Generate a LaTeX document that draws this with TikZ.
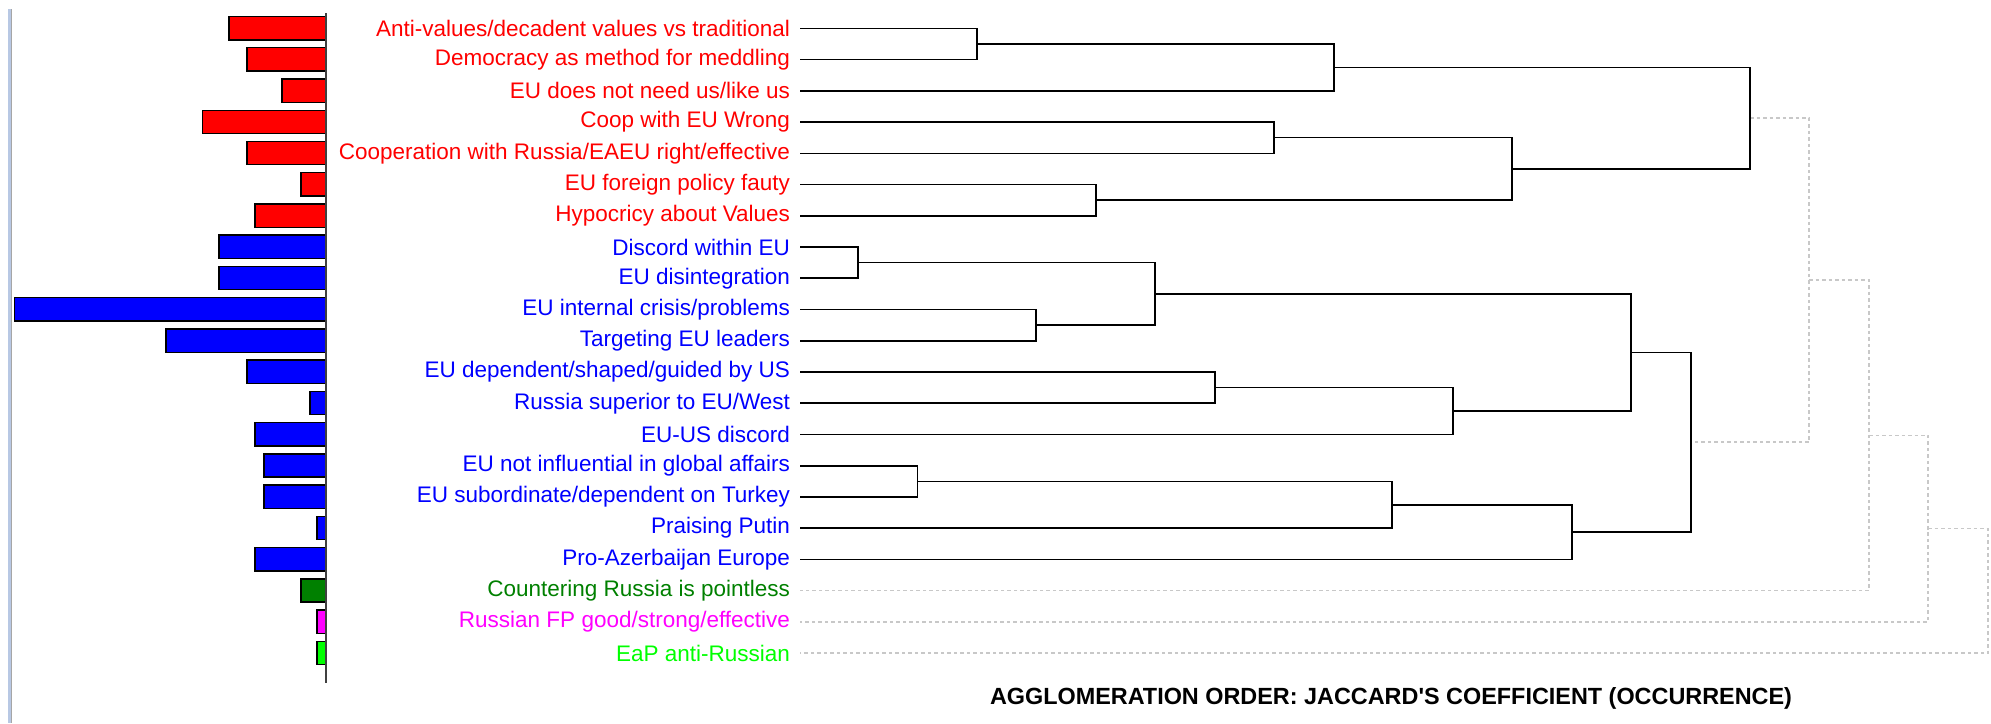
\documentclass[tikz,border=0pt]{standalone}
\usepackage{fontspec}
\setmainfont{Liberation Sans}[Ligatures=TeXOff]
\definecolor{cred}{RGB}{255,0,0}
\definecolor{cblue}{RGB}{0,0,255}
\definecolor{cdgreen}{RGB}{0,128,0}
\definecolor{cmag}{RGB}{255,0,255}
\definecolor{clgreen}{RGB}{0,255,0}
\definecolor{dotgray}{RGB}{200,200,200}
\definecolor{sidebar}{RGB}{184,200,228}
\begin{document}
\begin{tikzpicture}[x=1pt,y=-1pt,
  lbl/.style={anchor=east,inner xsep=0pt,inner ysep=0pt,outer xsep=10pt,font=\fontsize{22.5}{27}\selectfont},
  tree/.style={draw=black,line width=1.6pt},
  dot/.style={draw=dotgray,line width=1.6pt,dash pattern=on 3.5pt off 3pt},
  bar/.style={draw=black,line width=1.4pt}]
\useasboundingbox (0,0) rectangle (1991,723);
% side line
\fill[sidebar] (8,9) rectangle (11,723);
\draw[gray!70,line width=0.8pt] (11.4,9) -- (11.4,723);
% bars
\foreach \l/\i/\c in {229/0/cred,247/1/cred,282/2/cred,202.5/3/cred,247/4/cred,301/5/cred,255/6/cred,
  219/7/cblue,219/8/cblue,14.3/9/cblue,166/10/cblue,247/11/cblue,310/12/cblue,255/13/cblue,264/14/cblue,264/15/cblue,317/16/cblue,255/17/cblue,
  301/18/cdgreen,317/19/cmag,317/20/clgreen}{
  \pgfmathsetmacro{\yy}{28.3+31.24*\i}
  \draw[bar,fill=\c] (\l,\yy-11.8) rectangle (326,\yy+11.5);
}
\draw[black!75,line width=2pt] (326,13) -- (326,683);
% labels
\node[lbl,text=cred] (l0) at (800,28.3) {Anti-values/decadent values vs traditional};
\node[lbl,text=cred] (l1) at (800,59.5) {Democracy as method for meddling};
\node[lbl,text=cred] (l2) at (800,90.8) {EU does not need us/like us};
\node[lbl,text=cred] (l3) at (800,122.0) {Coop with EU Wrong};
\node[lbl,text=cred] (l4) at (800,153.3) {Cooperation with Russia/EAEU right/effective};
\node[lbl,text=cred] (l5) at (800,184.5) {EU foreign policy fauty};
\node[lbl,text=cred] (l6) at (800,215.7) {Hypocricy about Values};
\node[lbl,text=cblue] (l7) at (800,247.0) {Discord within EU};
\node[lbl,text=cblue] (l8) at (800,278.2) {EU disintegration};
\node[lbl,text=cblue] (l9) at (800,309.5) {EU internal crisis/problems};
\node[lbl,text=cblue] (l10) at (800,340.7) {Targeting EU leaders};
\node[lbl,text=cblue] (l11) at (800,371.9) {EU dependent/shaped/guided by US};
\node[lbl,text=cblue] (l12) at (800,403.2) {Russia superior to EU/West};
\node[lbl,text=cblue] (l13) at (800,434.4) {EU-US discord};
\node[lbl,text=cblue] (l14) at (800,465.7) {EU not influential in global affairs};
\node[lbl,text=cblue] (l15) at (800,496.9) {EU subordinate/dependent on Turkey};
\node[lbl,text=cblue] (l16) at (800,528.1) {Praising Putin};
\node[lbl,text=cblue] (l17) at (800,559.4) {Pro-Azerbaijan Europe};
\node[lbl,text=cdgreen] (l18) at (800,590.6) {Countering Russia is pointless};
\node[lbl,text=cmag] (l19) at (800,621.9) {Russian FP good/strong/effective};
\node[lbl,text=clgreen] (l20) at (800,653.1) {EaP anti-Russian};
% merge points
\coordinate (m01) at (977,43.9);
\coordinate (m012) at (1334,67.35);
\coordinate (m34) at (1274,137.65);
\coordinate (m56) at (1096,200.1);
\coordinate (m3456) at (1512,168.9);
\coordinate (mred) at (1750,118.1);
\coordinate (m78) at (858,262.6);
\coordinate (m910) at (1036,325.1);
\coordinate (m7t10) at (1155,293.85);
\coordinate (m1112) at (1215,387.55);
\coordinate (m11t13) at (1453,410.98);
\coordinate (m7t13) at (1631,352.4);
\coordinate (m1415) at (917.5,481.3);
\coordinate (m14t16) at (1392,504.7);
\coordinate (m14t17) at (1572,532.05);
\coordinate (mblue) at (1691,442.2);
\coordinate (d1) at (1809,280.2);
\coordinate (d2) at (1869,435.4);
\coordinate (d3) at (1928,528.6);
\coordinate (d4) at (1988,590.9);
% dotted links
\draw[dot] (mred) -| (d1) |- (mblue);
\draw[dot] (d1) -| (d2) |- (l18.east);
\draw[dot] (d2) -| (d3) |- (l19.east);
\draw[dot] (d3) -| (d4) |- (l20.east);
% tree
\draw[tree] (l0.east) -| (m01) |- (l1.east);
\draw[tree] (m01) -| (m012) |- (l2.east);
\draw[tree] (l3.east) -| (m34) |- (l4.east);
\draw[tree] (l5.east) -| (m56) |- (l6.east);
\draw[tree] (m34) -| (m3456) |- (m56);
\draw[tree] (m012) -| (mred) |- (m3456);
\draw[tree] (l7.east) -| (m78) |- (l8.east);
\draw[tree] (l9.east) -| (m910) |- (l10.east);
\draw[tree] (m78) -| (m7t10) |- (m910);
\draw[tree] (l11.east) -| (m1112) |- (l12.east);
\draw[tree] (m1112) -| (m11t13) |- (l13.east);
\draw[tree] (m7t10) -| (m7t13) |- (m11t13);
\draw[tree] (l14.east) -| (m1415) |- (l15.east);
\draw[tree] (m1415) -| (m14t16) |- (l16.east);
\draw[tree] (m14t16) -| (m14t17) |- (l17.east);
\draw[tree] (m7t13) -| (mblue) |- (m14t17);
% title
\node[font=\bfseries\fontsize{23.4}{28}\selectfont] (title) at (1391,698) {AGGLOMERATION ORDER: JACCARD'S COEFFICIENT (OCCURRENCE)};
\end{tikzpicture}
\end{document}
